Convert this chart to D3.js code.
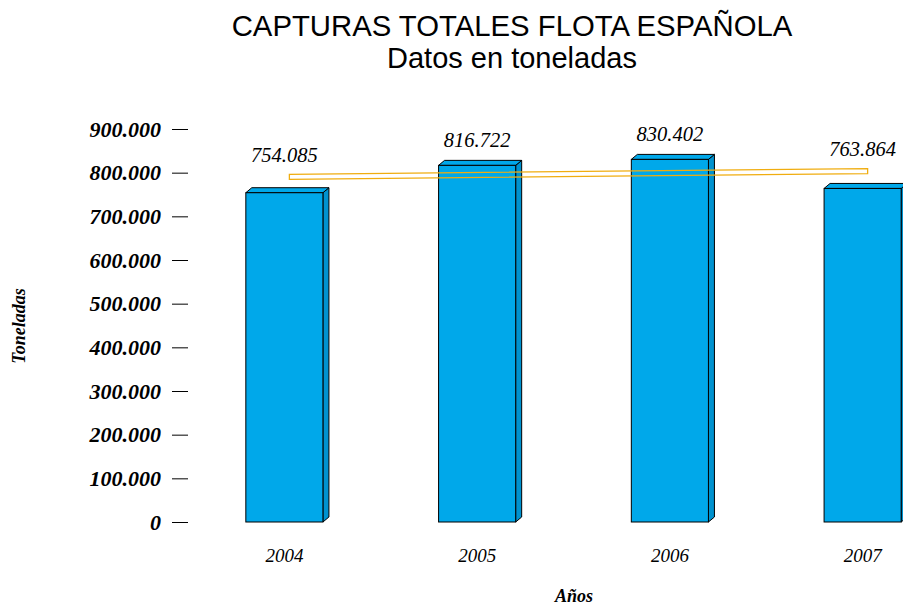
<!DOCTYPE html>
<html>
<head>
<meta charset="utf-8">
<script src="https://cdn.jsdelivr.net/npm/d3@7"></script>
<style>
  body { margin: 0; background: #fff; }
  svg { display: block; }
</style>
</head>
<body>
<script>
// data
var years = ["2004", "2005", "2006", "2007"];
var catches = [754085, 816722, 830402, 763864];
var valueLabels = ["754.085", "816.722", "830.402", "763.864"];
var tickValues = [0, 100000, 200000, 300000, 400000, 500000, 600000, 700000, 800000, 900000];
var tickLabels = ["0", "100.000", "200.000", "300.000", "400.000", "500.000", "600.000", "700.000", "800.000", "900.000"];

var w = 903, h = 605;
var depthX = 6, depthY = 5;
var serif = "'Liberation Serif', 'Times New Roman', serif";

var svg = d3.select("body").append("svg")
  .attr("width", w)
  .attr("height", h);

// scales
var x = d3.scaleBand()
  .domain(years)
  .range([188, 959])
  .paddingInner(0.6)
  .paddingOuter(0.3);

var y = d3.scaleLinear()
  .domain([0, 900000])
  .range([522, 129]);

// titles
svg.append("text")
  .attr("x", 512).attr("y", 36)
  .attr("text-anchor", "middle")
  .style("font-family", "'Liberation Sans', Arial, sans-serif")
  .style("font-size", "29.3px")
  .text("CAPTURAS TOTALES FLOTA ESPAÑOLA");

svg.append("text")
  .attr("x", 512).attr("y", 68)
  .attr("text-anchor", "middle")
  .style("font-family", "'Liberation Sans', Arial, sans-serif")
  .style("font-size", "29px")
  .text("Datos en toneladas");

// y axis (ticks only, no domain line)
var yAxis = d3.axisLeft(y)
  .tickValues(tickValues)
  .tickFormat(function(d, i) { return tickLabels[i]; })
  .tickSizeInner(16)
  .tickSizeOuter(0)
  .tickPadding(11);

var gy = svg.append("g")
  .attr("transform", "translate(188,0)")
  .call(yAxis);
gy.select(".domain").remove();
gy.selectAll(".tick line").attr("stroke", "#000");
gy.selectAll(".tick text")
  .attr("fill", "#000")
  .style("font-family", serif)
  .style("font-size", "22px")
  .style("font-weight", "bold")
  .style("font-style", "italic");

// bars with 3d look
var bars = svg.selectAll(".bar")
  .data(catches)
  .enter()
  .append("g")
  .attr("class", "bar");

// side face
bars.append("path")
  .attr("d", function(d, i) {
    var x1 = x(years[i]) + x.bandwidth(), y0 = y(0), y1 = y(d);
    return "M" + x1 + "," + y0 + "L" + x1 + "," + y1 +
      "L" + (x1 + depthX) + "," + (y1 - depthY) +
      "L" + (x1 + depthX) + "," + (y0 - depthY) + "Z";
  })
  .attr("fill", "#0092cf")
  .attr("stroke", "#000")
  .attr("stroke-width", 1);

// top face
bars.append("path")
  .attr("d", function(d, i) {
    var x0 = x(years[i]), x1 = x0 + x.bandwidth(), y1 = y(d);
    return "M" + x0 + "," + y1 + "L" + (x0 + depthX) + "," + (y1 - depthY) +
      "L" + (x1 + depthX) + "," + (y1 - depthY) + "L" + x1 + "," + y1 + "Z";
  })
  .attr("fill", "#00a8ea")
  .attr("stroke", "#000")
  .attr("stroke-width", 1);

// front face
bars.append("rect")
  .attr("x", function(d, i) { return x(years[i]); })
  .attr("y", function(d) { return y(d); })
  .attr("width", x.bandwidth())
  .attr("height", function(d) { return y(0) - y(d); })
  .attr("fill", "#00a8ea")
  .attr("stroke", "#000")
  .attr("stroke-width", 1);

// linear trend line, drawn as a thin ribbon
var n = catches.length;
var mx = d3.mean(catches, function(d, i) { return i; });
var my = d3.mean(catches);
var slope = d3.sum(catches, function(d, i) { return (i - mx) * (d - my); }) /
            d3.sum(catches, function(d, i) { return (i - mx) * (i - mx); });
var trend = function(i) { return my + slope * (i - mx); };
var cx = function(i) { return x(years[i]) + x.bandwidth() / 2 + 5; };

var ribbon = [
  [cx(0), y(trend(0))],
  [cx(0), y(trend(0)) - depthY],
  [cx(n - 1), y(trend(n - 1)) - depthY],
  [cx(n - 1), y(trend(n - 1))]
];
svg.append("path")
  .attr("d", d3.line()(ribbon) + "Z")
  .attr("fill", "none")
  .attr("stroke", "#f0ad10")
  .attr("stroke-width", 1.3);

// value labels
svg.selectAll(".val")
  .data(catches)
  .enter()
  .append("text")
  .attr("class", "val")
  .attr("x", function(d, i) { return x(years[i]) + x.bandwidth() / 2; })
  .attr("y", function(d, i) { return Math.min(y(d) - 18.6, y(trend(i)) - depthY - 12.5); })
  .attr("text-anchor", "middle")
  .style("font-family", serif)
  .style("font-size", "20.5px")
  .style("font-style", "italic")
  .text(function(d, i) { return valueLabels[i]; });

// year labels
svg.selectAll(".year")
  .data(years)
  .enter()
  .append("text")
  .attr("class", "year")
  .attr("x", function(d) { return x(d) + x.bandwidth() / 2; })
  .attr("y", 562)
  .attr("text-anchor", "middle")
  .style("font-family", serif)
  .style("font-size", "19px")
  .style("font-style", "italic")
  .text(function(d) { return d; });

// axis titles
svg.append("text")
  .attr("x", 574).attr("y", 602)
  .attr("text-anchor", "middle")
  .style("font-family", serif)
  .style("font-size", "18px")
  .style("font-weight", "bold")
  .style("font-style", "italic")
  .text("Años");

svg.append("text")
  .attr("transform", "translate(25,326) rotate(-90)")
  .attr("text-anchor", "middle")
  .style("font-family", serif)
  .style("font-size", "18px")
  .style("font-weight", "bold")
  .style("font-style", "italic")
  .text("Toneladas");
</script>
</body>
</html>
